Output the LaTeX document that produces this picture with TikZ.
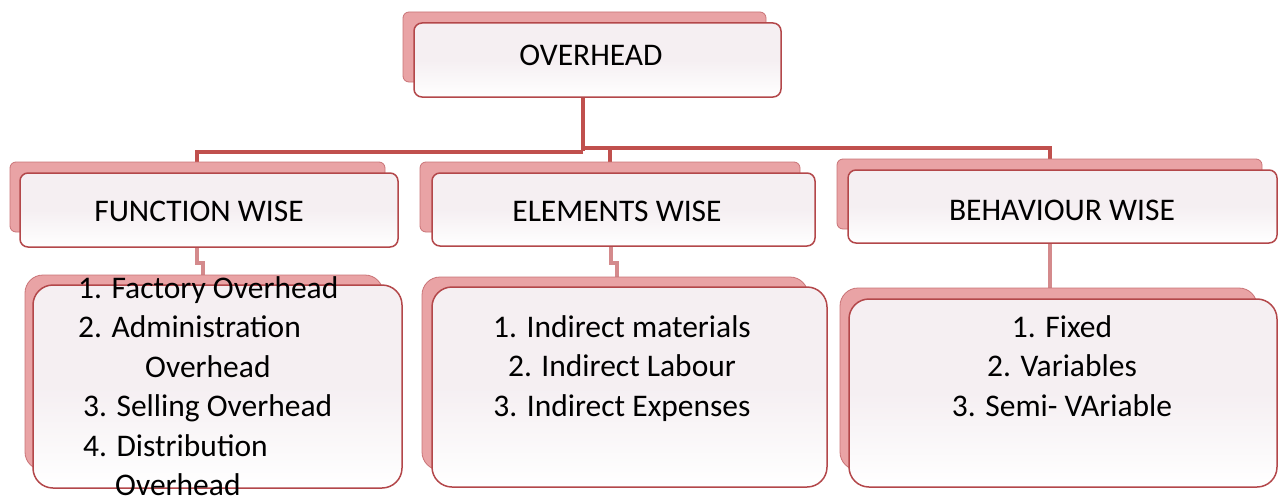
\documentclass[tikz,border=0pt]{standalone}
\usepackage{fontspec}
\setmainfont{Carlito}
\definecolor{redline}{HTML}{C0504D}
\definecolor{lightline}{HTML}{D48A8C}
\definecolor{shadowfill}{HTML}{E9A3A5}
\definecolor{shadowdraw}{HTML}{C97376}
\definecolor{boxfill}{HTML}{F5EFF2}
\definecolor{boxdraw}{HTML}{B3474A}
\tikzset{
  conn/.style={draw=redline, line width=4pt},
  subconn/.style={draw=lightline, line width=4pt},
  shadowbox/.style={fill=shadowfill, draw=shadowdraw, line width=0.8pt},
  headbox/.style={draw=boxdraw, line width=1.5pt, top color=boxfill, bottom color=white, middle color=boxfill, rounded corners=8pt, inner sep=0pt},
  listbox/.style={draw=boxdraw, line width=1.5pt, top color=boxfill, bottom color=white, middle color=boxfill, rounded corners=20pt, inner sep=0pt},
  headtext/.style={font=\fontsize{31.5}{38}\selectfont, inner sep=0pt},
  listtext/.style={font=\fontsize{31.5}{39.5}\selectfont, inner sep=0pt}
}
\begin{document}
\begin{tikzpicture}[x=1pt,y=-1pt]
\useasboundingbox (0,0) rectangle (1281,495);
\coordinate (j) at (583,150);
\coordinate (jl) at (197,152);
\coordinate (jr) at (1050,148);
\coordinate (je) at (610,150);
% box outlines as named nodes (for connector ends)
\path (597.5,60) node[minimum width=367pt, minimum height=74pt] (ov) {};
\path (209,210) node[minimum width=378pt, minimum height=74pt] (fw) {};
\path (623.5,209.5) node[minimum width=383pt, minimum height=73pt] (ew) {};
\path (1062.5,206.5) node[minimum width=429pt, minimum height=73pt] (bw) {};
\path (217.5,386.5) node[minimum width=369pt, minimum height=203pt] (fl) {};
\path (629.5,387) node[minimum width=395pt, minimum height=200pt] (el) {};
\path (1063,393) node[minimum width=428pt, minimum height=188pt] (bl) {};
% connectors
\draw[conn] (ov.south -| j) -- (583,150.5);
\draw[conn] (583,152) -- (jl) -- (fw.north -| jl);
\draw[conn] (583,148) -- (jr) -- (bw.north -| jr);
\draw[conn] (je) -- (ew.north -| je);
\draw[subconn] (fw.south -| 197,0) -- (197,263) -- (203,263) -- (fl.north -| 203,0);
\draw[subconn] (ew.south -| 611,0) -- (611,263) -- (617,263) -- (el.north -| 617,0);
\draw[subconn] (bw.south -| 1050,0) -- (bl.north -| 1050,0);
% shadows
\draw[shadowbox, rounded corners=6pt] (403,12) rectangle (766,82);
\draw[shadowbox, rounded corners=6pt] (10,162) rectangle (385,232);
\draw[shadowbox, rounded corners=6pt] (420,162) rectangle (800,232);
\draw[shadowbox, rounded corners=6pt] (837,159) rectangle (1262,229);
\draw[shadowbox, rounded corners=18pt] (25,275) rectangle (383,470);
\draw[shadowbox, rounded corners=18pt] (422,277) rectangle (808,470);
\draw[shadowbox, rounded corners=18pt] (840,288) rectangle (1257,470);
% front boxes
\path (597.5,60) node[headbox, minimum width=367pt, minimum height=74pt] (ov2) {};
\path (209,210) node[headbox, minimum width=378pt, minimum height=74pt] (fw2) {};
\path (623.5,209.5) node[headbox, minimum width=383pt, minimum height=73pt] (ew2) {};
\path (1062.5,206.5) node[headbox, minimum width=429pt, minimum height=73pt] (bw2) {};
\path (217.5,386.5) node[listbox, minimum width=369pt, minimum height=203pt] (fl2) {};
\path (629.5,387) node[listbox, minimum width=395pt, minimum height=200pt] (el2) {};
\path (1063,393) node[listbox, minimum width=428pt, minimum height=188pt] (bl2) {};
% texts
\node[headtext] (tov) at (591,55) {OVERHEAD};
\node[headtext] (tfw) at (199,211) {FUNCTION WISE};
\node[headtext] (tew) at (617,211) {ELEMENTS WISE};
\node[headtext] (tbw) at (1062,210) {BEHAVIOUR WISE};
\node[listtext, align=left, anchor=north west] (tfl) at (78,276) {1. Factory Overhead\\2. Administration\\\hspace*{67pt}Overhead\\\hspace*{5pt}3. Selling Overhead\\\hspace*{5pt}4. Distribution\\\hspace*{37pt}Overhead};
\node[listtext, align=center, anchor=north] (tel) at (622,315) {1. Indirect materials\\2. Indirect Labour\\3. Indirect Expenses};
\node[listtext, align=center, anchor=north] (tbl) at (1062,315) {1. Fixed\\2. Variables\\3. Semi- VAriable};
\end{tikzpicture}
\end{document}
